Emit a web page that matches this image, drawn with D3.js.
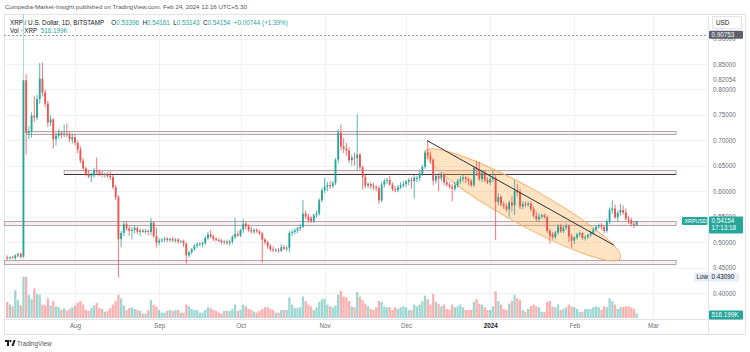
<!DOCTYPE html>
<html>
<head>
<meta charset="utf-8">
<script src="https://cdn.jsdelivr.net/npm/d3@7"></script>
<style>
  body { margin: 0; background: #fff; }
  svg { display: block; font-family: 'Liberation Sans', 'DejaVu Sans', sans-serif; }
</style>
</head>
<body>
<svg id="chart" width="750" height="352"></svg>
<script>
// daily candles [open, high, low, close], one array per month
const startDate = new Date(2023, 6, 7)

const julBars = [
  [0.470, 0.474, 0.465, 0.468], [0.468, 0.472, 0.466, 0.470], [0.470, 0.473, 0.467, 0.469],
  [0.469, 0.476, 0.465, 0.474], [0.474, 0.479, 0.470, 0.477], [0.477, 0.480, 0.468, 0.471],
  [0.471, 0.950, 0.466, 0.818], [0.818, 0.830, 0.672, 0.715], [0.715, 0.728, 0.702, 0.718],
  [0.718, 0.755, 0.705, 0.748], [0.748, 0.787, 0.736, 0.745], [0.745, 0.790, 0.740, 0.781],
  [0.781, 0.852, 0.772, 0.821], [0.821, 0.853, 0.786, 0.794], [0.794, 0.800, 0.765, 0.772],
  [0.772, 0.778, 0.726, 0.735], [0.735, 0.749, 0.728, 0.741], [0.741, 0.743, 0.684, 0.702],
  [0.702, 0.715, 0.690, 0.709], [0.709, 0.722, 0.703, 0.714], [0.714, 0.719, 0.704, 0.711],
  [0.711, 0.731, 0.706, 0.713], [0.713, 0.733, 0.706, 0.711], [0.711, 0.716, 0.696, 0.702],
  [0.702, 0.713, 0.694, 0.706],
]
const augBars = [
  [0.706, 0.712, 0.690, 0.695], [0.695, 0.700, 0.675, 0.682], [0.682, 0.688, 0.655, 0.660],
  [0.660, 0.665, 0.640, 0.645], [0.645, 0.648, 0.630, 0.633], [0.633, 0.640, 0.626, 0.629],
  [0.629, 0.636, 0.618, 0.631], [0.631, 0.645, 0.626, 0.640], [0.640, 0.666, 0.632, 0.638],
  [0.638, 0.642, 0.630, 0.635], [0.635, 0.640, 0.628, 0.632], [0.632, 0.636, 0.627, 0.634],
  [0.634, 0.637, 0.626, 0.630], [0.630, 0.639, 0.622, 0.628], [0.628, 0.632, 0.604, 0.608],
  [0.608, 0.612, 0.583, 0.588], [0.588, 0.592, 0.4309, 0.506], [0.506, 0.522, 0.490, 0.518],
  [0.518, 0.540, 0.512, 0.535], [0.535, 0.540, 0.522, 0.527], [0.527, 0.532, 0.512, 0.522],
  [0.522, 0.530, 0.505, 0.524], [0.524, 0.533, 0.517, 0.528], [0.528, 0.531, 0.516, 0.520],
  [0.520, 0.526, 0.512, 0.523], [0.523, 0.526, 0.518, 0.520], [0.520, 0.526, 0.516, 0.522],
  [0.522, 0.525, 0.513, 0.520], [0.520, 0.547, 0.514, 0.538], [0.538, 0.540, 0.508, 0.512],
  [0.512, 0.528, 0.490, 0.499],
]
const sepBars = [
  [0.499, 0.508, 0.494, 0.503], [0.503, 0.508, 0.499, 0.505], [0.505, 0.510, 0.500, 0.507],
  [0.507, 0.510, 0.500, 0.504], [0.504, 0.508, 0.500, 0.506], [0.506, 0.510, 0.500, 0.503],
  [0.503, 0.508, 0.499, 0.505], [0.505, 0.508, 0.497, 0.501], [0.501, 0.505, 0.498, 0.502],
  [0.502, 0.505, 0.490, 0.497], [0.497, 0.499, 0.458, 0.474], [0.474, 0.483, 0.470, 0.480],
  [0.480, 0.488, 0.476, 0.486], [0.486, 0.496, 0.483, 0.493], [0.493, 0.500, 0.488, 0.496],
  [0.496, 0.500, 0.492, 0.497], [0.497, 0.501, 0.490, 0.498], [0.498, 0.512, 0.494, 0.508],
  [0.508, 0.520, 0.504, 0.515], [0.515, 0.524, 0.508, 0.511], [0.511, 0.515, 0.502, 0.506],
  [0.506, 0.510, 0.501, 0.504], [0.504, 0.508, 0.500, 0.503], [0.503, 0.506, 0.496, 0.500],
  [0.500, 0.504, 0.495, 0.501], [0.501, 0.505, 0.494, 0.498], [0.498, 0.505, 0.493, 0.501],
  [0.501, 0.514, 0.496, 0.510], [0.510, 0.547, 0.506, 0.516], [0.516, 0.522, 0.510, 0.513],
]
const octBars = [
  [0.513, 0.526, 0.510, 0.524], [0.524, 0.546, 0.518, 0.536], [0.536, 0.540, 0.525, 0.531],
  [0.531, 0.535, 0.520, 0.524], [0.524, 0.530, 0.517, 0.521], [0.521, 0.527, 0.516, 0.524],
  [0.524, 0.527, 0.518, 0.521], [0.521, 0.524, 0.514, 0.517], [0.517, 0.520, 0.460, 0.505],
  [0.505, 0.508, 0.495, 0.500], [0.500, 0.503, 0.487, 0.492], [0.492, 0.496, 0.482, 0.486],
  [0.486, 0.492, 0.480, 0.484], [0.484, 0.488, 0.480, 0.485], [0.485, 0.489, 0.479, 0.483],
  [0.483, 0.496, 0.480, 0.490], [0.490, 0.494, 0.484, 0.487], [0.487, 0.492, 0.482, 0.489],
  [0.489, 0.522, 0.480, 0.518], [0.518, 0.525, 0.512, 0.520], [0.520, 0.527, 0.515, 0.523],
  [0.523, 0.530, 0.518, 0.527], [0.527, 0.535, 0.522, 0.530], [0.530, 0.583, 0.527, 0.556],
  [0.556, 0.562, 0.545, 0.550], [0.550, 0.556, 0.538, 0.543], [0.547, 0.552, 0.538, 0.541],
  [0.541, 0.556, 0.538, 0.553], [0.553, 0.562, 0.548, 0.556], [0.556, 0.586, 0.552, 0.582],
  [0.582, 0.606, 0.578, 0.602],
]
const novBars = [
  [0.602, 0.626, 0.596, 0.609], [0.609, 0.618, 0.600, 0.612], [0.612, 0.620, 0.604, 0.610],
  [0.610, 0.620, 0.606, 0.616], [0.616, 0.665, 0.612, 0.662], [0.662, 0.722, 0.655, 0.715],
  [0.715, 0.731, 0.680, 0.688], [0.688, 0.705, 0.675, 0.684], [0.684, 0.695, 0.670, 0.680],
  [0.680, 0.686, 0.655, 0.661], [0.661, 0.672, 0.650, 0.666], [0.666, 0.676, 0.650, 0.665],
  [0.665, 0.751, 0.640, 0.672], [0.672, 0.675, 0.642, 0.647], [0.647, 0.650, 0.603, 0.628],
  [0.628, 0.632, 0.606, 0.611], [0.611, 0.618, 0.606, 0.614], [0.614, 0.618, 0.604, 0.610],
  [0.610, 0.616, 0.602, 0.608], [0.608, 0.612, 0.600, 0.606], [0.606, 0.610, 0.575, 0.582],
  [0.582, 0.618, 0.578, 0.613], [0.613, 0.625, 0.608, 0.620], [0.620, 0.626, 0.614, 0.622],
  [0.622, 0.630, 0.611, 0.613], [0.613, 0.617, 0.600, 0.604], [0.604, 0.610, 0.598, 0.602],
  [0.602, 0.612, 0.598, 0.608], [0.608, 0.618, 0.604, 0.612], [0.612, 0.620, 0.607, 0.614],
]
const decBars = [
  [0.614, 0.622, 0.608, 0.619], [0.619, 0.626, 0.612, 0.622], [0.622, 0.628, 0.605, 0.620],
  [0.620, 0.632, 0.586, 0.627], [0.624, 0.630, 0.618, 0.626], [0.626, 0.640, 0.620, 0.635],
  [0.635, 0.652, 0.630, 0.648], [0.648, 0.680, 0.644, 0.676], [0.676, 0.700, 0.664, 0.670],
  [0.670, 0.678, 0.655, 0.662], [0.662, 0.665, 0.612, 0.621], [0.621, 0.634, 0.615, 0.630],
  [0.630, 0.636, 0.600, 0.625], [0.625, 0.637, 0.620, 0.633], [0.633, 0.636, 0.612, 0.617],
  [0.617, 0.624, 0.609, 0.613], [0.613, 0.618, 0.605, 0.609], [0.609, 0.614, 0.580, 0.605],
  [0.605, 0.618, 0.600, 0.612], [0.612, 0.624, 0.607, 0.620], [0.620, 0.630, 0.614, 0.624],
  [0.624, 0.632, 0.618, 0.627], [0.627, 0.630, 0.616, 0.624], [0.624, 0.627, 0.612, 0.620],
  [0.620, 0.624, 0.608, 0.612], [0.612, 0.650, 0.608, 0.646], [0.646, 0.660, 0.630, 0.642],
  [0.642, 0.658, 0.620, 0.624], [0.624, 0.642, 0.618, 0.636], [0.636, 0.640, 0.618, 0.622],
  [0.622, 0.627, 0.614, 0.617],
]
const janBars = [
  [0.617, 0.630, 0.612, 0.624], [0.624, 0.640, 0.618, 0.626], [0.626, 0.634, 0.504, 0.579],
  [0.579, 0.596, 0.572, 0.589], [0.589, 0.592, 0.570, 0.574], [0.574, 0.580, 0.565, 0.571],
  [0.571, 0.576, 0.560, 0.564], [0.564, 0.582, 0.550, 0.578], [0.578, 0.590, 0.560, 0.572],
  [0.572, 0.622, 0.553, 0.601], [0.601, 0.615, 0.590, 0.598], [0.598, 0.605, 0.565, 0.570],
  [0.570, 0.580, 0.565, 0.575], [0.575, 0.580, 0.568, 0.573], [0.573, 0.580, 0.569, 0.576],
  [0.576, 0.580, 0.560, 0.565], [0.565, 0.570, 0.548, 0.552], [0.552, 0.560, 0.540, 0.545],
  [0.545, 0.556, 0.540, 0.550], [0.550, 0.556, 0.546, 0.553], [0.553, 0.556, 0.546, 0.549],
  [0.549, 0.552, 0.518, 0.522], [0.522, 0.526, 0.497, 0.512], [0.515, 0.520, 0.505, 0.510],
  [0.510, 0.522, 0.506, 0.519], [0.519, 0.535, 0.515, 0.531], [0.531, 0.536, 0.518, 0.521],
  [0.521, 0.532, 0.517, 0.528], [0.528, 0.537, 0.524, 0.532], [0.532, 0.535, 0.500, 0.511],
  [0.511, 0.516, 0.489, 0.503],
]
const febBars = [
  [0.503, 0.512, 0.496, 0.509], [0.509, 0.518, 0.505, 0.515], [0.515, 0.521, 0.510, 0.518],
  [0.518, 0.520, 0.505, 0.508], [0.508, 0.514, 0.503, 0.510], [0.510, 0.517, 0.506, 0.514],
  [0.514, 0.522, 0.510, 0.518], [0.518, 0.528, 0.514, 0.525], [0.525, 0.533, 0.521, 0.530],
  [0.530, 0.536, 0.526, 0.533], [0.533, 0.537, 0.524, 0.530], [0.530, 0.534, 0.518, 0.522],
  [0.522, 0.545, 0.518, 0.540], [0.540, 0.568, 0.535, 0.563], [0.563, 0.582, 0.556, 0.566],
  [0.566, 0.574, 0.545, 0.549], [0.549, 0.562, 0.540, 0.558], [0.558, 0.575, 0.552, 0.563],
  [0.563, 0.572, 0.554, 0.558], [0.558, 0.566, 0.542, 0.546], [0.546, 0.552, 0.536, 0.543],
  [0.543, 0.548, 0.531, 0.536], [0.536, 0.542, 0.528, 0.534], [0.53396, 0.54161, 0.53143, 0.54154],
]

// daily volume in thousands, one array per month
const julVol = [1800, 1500, 1300, 3100, 2000, 1400, 4600, 4600, 2600, 2100, 3300, 2700, 2600, 1500, 1400, 2200,
  1400, 1900, 1300, 1200, 900, 1100, 800, 1000, 1200]
const augVol = [1400, 1700, 1900, 1500, 900, 800, 1100, 1400, 1700, 1100, 1000, 700, 800, 1100, 1500, 1900,
  2600, 2200, 1400, 900, 1100, 1200, 1000, 900, 800, 500, 500, 900, 2000, 1500, 1300]
const sepVol = [900, 600, 600, 800, 900, 800, 900, 900, 600, 600, 1500, 1300, 1000, 900, 900, 600, 600, 900,
  1200, 1100, 900, 800, 600, 500, 800, 800, 800, 1000, 1500, 800]
const octVol = [900, 1500, 1300, 1000, 900, 700, 600, 800, 1000, 1200, 1200, 1000, 900, 600, 600, 900, 900, 900,
  2300, 1500, 1100, 1100, 1200, 2400, 1900, 1500, 1300, 900, 1200, 1800, 2100]
const novVol = [2100, 1500, 1300, 1200, 1400, 2600, 3000, 2400, 2300, 1900, 1300, 1200, 2900, 2400, 2000, 1600,
  1300, 1000, 900, 1200, 1900, 1800, 1300, 1200, 1200, 900, 1200, 1000, 1200, 1300]
const decVol = [1200, 900, 900, 1500, 1300, 1500, 1900, 2500, 2100, 1500, 2700, 1800, 1600, 1300, 1500, 1000,
  900, 1500, 1200, 1300, 1500, 1200, 900, 900, 900, 1800, 2100, 1600, 1500, 1200, 900]
const janVol = [900, 1300, 3000, 1900, 1500, 1000, 900, 1600, 1900, 2600, 2200, 2000, 900, 700, 1000, 1300,
  1500, 1300, 1200, 700, 700, 1800, 1900, 1300, 1200, 1500, 900, 1000, 1200, 1500, 1300]
const febVol = [1200, 1000, 700, 700, 1000, 1000, 1000, 1200, 1300, 1200, 900, 1300, 1200, 2200, 1900, 1500,
  1000, 1200, 1200, 1300, 1300, 1200, 1000, 516]

const priceTicks = [0.4, 0.45, 0.5, 0.55, 0.6, 0.65, 0.7, 0.75, 0.8, 0.85, 0.9]
const monthTicks = [
  new Date(2023, 7, 1), new Date(2023, 8, 1), new Date(2023, 9, 1), new Date(2023, 10, 1),
  new Date(2023, 11, 1), new Date(2024, 0, 1), new Date(2024, 1, 1), new Date(2024, 2, 1),
]
const monthLabels = ['Aug', 'Sep', 'Oct', 'Nov', 'Dec', '2024', 'Feb', 'Mar']

// support / resistance zones drawn on the chart
const zones = [
  { from: new Date(2023, 6, 14, 8), to: new Date(2024, 2, 9, 12), lo: 0.7115, hi: 0.7184, darkBottom: false },
  { from: new Date(2023, 6, 28), to: new Date(2024, 2, 9, 12), lo: 0.6338, hi: 0.6417, darkBottom: true },
  { from: new Date(2023, 6, 6), to: new Date(2024, 2, 9, 12), lo: 0.5346, hi: 0.5415, darkBottom: false },
  { from: new Date(2023, 6, 6), to: new Date(2024, 2, 9, 12), lo: 0.4570, hi: 0.4648, darkBottom: false },
]
const trendLine = [
  { date: new Date(2023, 11, 8, 17), price: 0.6996 },
  { date: new Date(2024, 1, 15, 14), price: 0.4940 },
]
const channelTips = [
  { date: new Date(2023, 11, 8, 5), price: 0.6785 },
  { date: new Date(2024, 1, 17, 22), price: 0.4678 },
]

const lastClose = 0.54154
const periodHigh = 0.90753
const periodLow = 0.4309

const ohlc = [...julBars, ...augBars, ...sepBars, ...octBars, ...novBars, ...decBars, ...janBars, ...febBars]
const vols = [...julVol, ...augVol, ...sepVol, ...octVol, ...novVol, ...decVol, ...janVol, ...febVol]
const bars = ohlc.map((r, i) => ({
  date: d3.timeDay.offset(startDate, i), o: r[0], h: r[1], l: r[2], c: r[3], v: vols[i],
}))

const upColor = '#26a69a'
const downColor = '#ef5350'
const textColor = '#6a6d78'
const fs = 6.3

const pane = { left: 4, right: 708, top: 14, bottom: 319 }
const svg = d3.select('#chart')

const x = d3.scaleTime()
  .domain([new Date(2023, 7, 1), new Date(2024, 2, 1)])
  .range([75, 653])
const y = d3.scaleLinear().domain([0.4, 0.85]).range([293, 64])
const yVol = d3.scaleLinear().domain([0, 4800]).range([318, 275])

svg.append('defs').append('clipPath').attr('id', 'pane-clip')
  .append('rect')
  .attr('x', pane.left).attr('y', pane.top)
  .attr('width', pane.right - pane.left).attr('height', pane.bottom - pane.top)

// header line
svg.append('text')
  .attr('x', 5).attr('y', 9)
  .attr('font-size', 6.2).attr('fill', '#555')
  .text('Coinpedia-Market-Insight published on TradingView.com, Feb 24, 2024 12:16 UTC+5:30')

// frame
svg.append('rect')
  .attr('x', pane.left + 0.5).attr('y', pane.top + 0.5)
  .attr('width', 746 - pane.left - 1).attr('height', 334 - pane.top)
  .attr('fill', 'none').attr('stroke', '#e0e3eb')
svg.append('line')
  .attr('x1', pane.right + 0.5).attr('x2', pane.right + 0.5)
  .attr('y1', pane.top).attr('y2', 334)
  .attr('stroke', '#e0e3eb')
svg.append('line')
  .attr('x1', pane.left).attr('x2', 746)
  .attr('y1', pane.bottom + 0.5).attr('y2', pane.bottom + 0.5)
  .attr('stroke', '#e0e3eb')

const plot = svg.append('g').attr('clip-path', 'url(#pane-clip)')

// grid
plot.append('g')
  .selectAll('line')
  .data(priceTicks)
  .join('line')
  .attr('x1', pane.left).attr('x2', pane.right)
  .attr('y1', d => Math.round(y(d)) + 0.5).attr('y2', d => Math.round(y(d)) + 0.5)
  .attr('stroke', '#f0f1f4')
plot.append('g')
  .selectAll('line')
  .data(monthTicks)
  .join('line')
  .attr('x1', d => Math.round(x(d)) + 0.5).attr('x2', d => Math.round(x(d)) + 0.5)
  .attr('y1', pane.top).attr('y2', pane.bottom)
  .attr('stroke', '#f0f1f4')

// volume
const step = x(new Date(2023, 7, 2)) - x(new Date(2023, 7, 1))
plot.append('g')
  .selectAll('rect')
  .data(bars)
  .join('rect')
  .attr('x', d => x(d.date) - step * 0.42)
  .attr('width', step * 0.84)
  .attr('y', d => yVol(d.v))
  .attr('height', d => yVol(0) - yVol(d.v))
  .attr('fill', d => (d.c >= d.o ? upColor : downColor))
  .attr('opacity', 0.45)

// period high dashed line
plot.append('line')
  .attr('x1', pane.left).attr('x2', pane.right)
  .attr('y1', Math.round(y(periodHigh)) + 0.5).attr('y2', Math.round(y(periodHigh)) + 0.5)
  .attr('stroke', '#9598a1').attr('stroke-dasharray', '2,2')

// zones
const zoneG = plot.append('g')
zones.forEach(z => {
  const x0 = x(z.from), x1 = x(z.to)
  const yTop = Math.round(y(z.hi)) + 0.5, yBot = Math.round(y(z.lo)) + 0.5
  zoneG.append('rect')
    .attr('x', x0).attr('y', yTop)
    .attr('width', x1 - x0).attr('height', yBot - yTop)
    .attr('fill', '#f4e8eb').attr('fill-opacity', 0.7)
    .attr('stroke', '#b3a6ac').attr('stroke-width', 1)
  if (z.darkBottom) {
    zoneG.append('line')
      .attr('x1', x0).attr('x2', x1).attr('y1', yBot).attr('y2', yBot)
      .attr('stroke', '#3a3a3a').attr('stroke-width', 1)
  }
})

// descending channel (ellipse), drawn under the candles
const pA = [x(channelTips[0].date), y(channelTips[0].price)]
const pB = [x(channelTips[1].date), y(channelTips[1].price)]
const cx = (pA[0] + pB[0]) / 2, cy = (pA[1] + pB[1]) / 2
const rx = Math.hypot(pB[0] - pA[0], pB[1] - pA[1]) / 2
const angle = Math.atan2(pB[1] - pA[1], pB[0] - pA[0]) * 180 / Math.PI
plot.append('ellipse')
  .attr('cx', cx).attr('cy', cy)
  .attr('rx', rx).attr('ry', 18.5)
  .attr('transform', `rotate(${angle},${cx},${cy})`)
  .attr('fill', '#ffa53a').attr('fill-opacity', 0.3)
  .attr('stroke', '#f5b36a').attr('stroke-width', 1)

// candles
const candleG = plot.append('g')
candleG.selectAll('line')
  .data(bars)
  .join('line')
  .attr('x1', d => x(d.date)).attr('x2', d => x(d.date))
  .attr('y1', d => y(d.h)).attr('y2', d => y(d.l))
  .attr('stroke', d => (d.c >= d.o ? upColor : downColor))
  .attr('stroke-width', 0.8)
  .attr('stroke-opacity', d => (d.h > 0.9 ? 0.5 : 1))
candleG.selectAll('rect')
  .data(bars)
  .join('rect')
  .attr('x', d => x(d.date) - step * 0.34)
  .attr('width', step * 0.68)
  .attr('y', d => y(Math.max(d.o, d.c)))
  .attr('height', d => Math.max(0.8, Math.abs(y(d.o) - y(d.c))))
  .attr('fill', d => (d.c >= d.o ? upColor : downColor))

plot.append('line')
  .attr('x1', x(trendLine[0].date)).attr('y1', y(trendLine[0].price))
  .attr('x2', x(trendLine[1].date)).attr('y2', y(trendLine[1].price))
  .attr('stroke', '#2a2e39').attr('stroke-width', 1)

// legend
const legend1 = svg.append('text').attr('x', 10).attr('y', 24.5).attr('font-size', fs).attr('fill', '#131722')
legend1.append('tspan').text('XRP / U.S. Dollar, 1D, BITSTAMP')
;[['O', '0.53396'], ['H', '0.54161'], ['L', '0.53143'], ['C', '0.54154']].forEach(([k, v], i) => {
  legend1.append('tspan').attr('dx', i === 0 ? 7 : 3.5).text(k)
  legend1.append('tspan').attr('fill', upColor).text(v)
})
legend1.append('tspan').attr('dx', 3.5).attr('fill', upColor).text('+0.00744 (+1.39%)')

const legend2 = svg.append('text').attr('x', 10).attr('y', 33).attr('font-size', fs).attr('fill', '#131722')
legend2.append('tspan').text('Vol · XRP')
legend2.append('tspan').attr('dx', 3.5).attr('fill', upColor).text('516.199K')

// price axis
const yAxis = d3.axisRight(y)
  .tickValues(priceTicks)
  .tickFormat(d3.format('.5f'))
  .tickSize(0)
  .tickPadding(5)
svg.append('g')
  .attr('transform', `translate(${pane.right},0)`)
  .call(yAxis)
  .call(g => g.select('.domain').remove())
  .call(g => g.selectAll('.tick text').attr('font-size', fs).attr('fill', textColor).attr('font-family', null))

svg.append('text')
  .attr('x', 713).attr('y', 79.8).attr('dy', '0.32em')
  .attr('font-size', fs).attr('fill', textColor)
  .text('0.82054')

// USD box
svg.append('rect')
  .attr('x', 712.5).attr('y', 16.5).attr('width', 29).attr('height', 12)
  .attr('fill', '#fff').attr('stroke', '#e0e3eb')
svg.append('text')
  .attr('x', 716).attr('y', 22.5).attr('dy', '0.32em')
  .attr('font-size', fs).attr('fill', '#131722').text('USD')

// price tags
function tag(yPos, h, bg, fg, lines, xPos = 709, w = 34, size = fs) {
  svg.append('rect')
    .attr('x', xPos).attr('y', yPos - h / 2).attr('width', w).attr('height', h)
    .attr('rx', 1).attr('fill', bg)
  lines.forEach((t, i) => {
    svg.append('text')
      .attr('x', xPos + 2.5).attr('y', yPos - h / 2 + 4.5 + i * 7.5)
      .attr('dy', '0.32em').attr('font-size', size).attr('fill', fg).text(t)
  })
}
tag(y(periodHigh), 8, '#5d606b', '#fff', [d3.format('.5f')(periodHigh)])
tag(y(lastClose) + 4, 17, upColor, '#fff', [d3.format('.5f')(lastClose), '17:13:18'])
tag(y(lastClose), 8, upColor, '#fff', ['XRPUSD'], 682, 25.5, 5.4)
tag(y(periodLow), 9, '#e8eef8', '#131722', [d3.format('.5f')(periodLow)], 709, 30)
tag(y(periodLow), 9, '#e8eef8', '#131722', ['Low'], 694, 14)
tag(315, 9, upColor, '#fff', ['516.199K'])

// time axis
const xAxis = d3.axisBottom(x)
  .tickValues(monthTicks)
  .tickFormat((d, i) => monthLabels[i])
  .tickSize(0)
  .tickPadding(5)
svg.append('g')
  .attr('transform', `translate(0,${pane.bottom})`)
  .call(xAxis)
  .call(g => g.select('.domain').remove())
  .call(g => g.selectAll('.tick text')
    .attr('font-size', fs).attr('font-family', null)
    .attr('fill', (d, i) => (monthLabels[i] === '2024' ? '#131722' : textColor))
    .attr('font-weight', (d, i) => (monthLabels[i] === '2024' ? 'bold' : null)))

// TradingView mark
const logo = svg.append('g').attr('transform', 'translate(5,340)').attr('fill', '#131722')
logo.append('path').attr('d', 'M0,0 H4 V6 H2 V2 H0 Z')
logo.append('circle').attr('cx', 5.4).attr('cy', 1.1).attr('r', 1.1)
logo.append('path').attr('d', 'M6.5,6 L8.6,0 H10.6 L8.5,6 Z')
svg.append('text')
  .attr('x', 17).attr('y', 345.5)
  .attr('font-size', fs).attr('fill', '#555')
  .text('TradingView')
</script>
</body>
</html>
